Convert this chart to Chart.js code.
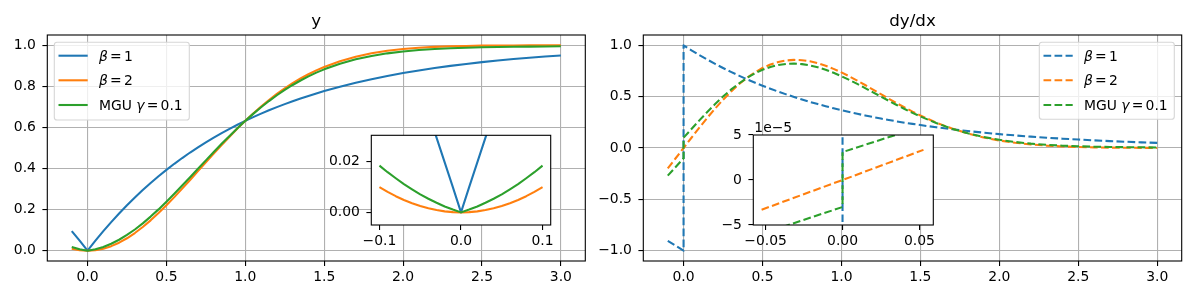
<!DOCTYPE html>
<html>
<head>
<meta charset="utf-8">
<script src="https://cdn.jsdelivr.net/npm/chart.js@4.4.1/dist/chart.umd.min.js"></script>
<style>
  html, body { margin: 0; padding: 0; background: #fff; }
  #fig { position: relative; width: 1196px; height: 300px; overflow: hidden; }
  canvas { position: absolute; }
</style>
</head>
<body>
<div id="fig">
  <canvas id="yMain" width="598" height="300" style="left:0;top:0"></canvas>
  <canvas id="dMain" width="598" height="300" style="left:598px;top:0"></canvas>
  <canvas id="yInset" width="240" height="140" style="left:320px;top:120px"></canvas>
  <canvas id="dInset" width="250" height="150" style="left:700px;top:110px"></canvas>
</div>
<script>
// ---- data ----
const seriesLabels = ['β=1', 'β=2', 'MGU γ=0.1'];
const titles = ['y', 'dy/dx'];

// left panel: y(x)
const xs = [-0.1, -0.05, 0, 0.05, 0.1, 0.15, 0.2, 0.25, 0.3, 0.35, 0.4, 0.45, 0.5, 0.55, 0.6, 0.65, 0.7, 0.75,
  0.8, 0.85, 0.9, 0.95, 1.0, 1.05, 1.1, 1.15, 1.2, 1.25, 1.3, 1.35, 1.4, 1.45, 1.5,
  1.6, 1.7, 1.8, 1.9, 2.0, 2.1, 2.2, 2.3, 2.4, 2.5, 2.6, 2.7, 2.8, 2.9, 3.0];
const yBeta1 = [0.0952, 0.0488, 0, 0.0488, 0.0952, 0.1393, 0.1813, 0.2212, 0.2592, 0.2953, 0.3297, 0.3624, 0.3935,
  0.4231, 0.4512, 0.4780, 0.5034, 0.5276, 0.5507, 0.5726, 0.5934, 0.6133, 0.6321, 0.6501, 0.6671, 0.6834, 0.6988,
  0.7135, 0.7275, 0.7408, 0.7534, 0.7654, 0.7769,
  0.7981, 0.8173, 0.8347, 0.8504, 0.8647, 0.8775, 0.8892, 0.8997, 0.9093, 0.9179, 0.9257, 0.9328, 0.9392, 0.9450, 0.9502];
const yBeta2 = [0.0100, 0.0025, 0, 0.0025, 0.0100, 0.0223, 0.0392, 0.0606, 0.0861, 0.1153, 0.1479, 0.1833, 0.2212,
  0.2610, 0.3023, 0.3446, 0.3874, 0.4302, 0.4727, 0.5145, 0.5551, 0.5945, 0.6321, 0.6680, 0.7018, 0.7335, 0.7631,
  0.7904, 0.8155, 0.8384, 0.8591, 0.8779, 0.8946,
  0.9227, 0.9444, 0.9608, 0.9730, 0.9817, 0.9878, 0.9921, 0.9950, 0.9968, 0.9981, 0.9988, 0.9993, 0.9996, 0.9998, 0.9999];
const yMgu = [0.0185, 0.0071, 0, 0.0071, 0.0185, 0.0340, 0.0534, 0.0767, 0.1034, 0.1333, 0.1661, 0.2012, 0.2384,
  0.2772, 0.3172, 0.3579, 0.3990, 0.4399, 0.4805, 0.5203, 0.5589, 0.5964, 0.6321, 0.6662, 0.6983, 0.7285, 0.7567,
  0.7827, 0.8067, 0.8286, 0.8485, 0.8667, 0.8828,
  0.9102, 0.9317, 0.9482, 0.9607, 0.9700, 0.9768, 0.9818, 0.9855, 0.9881, 0.9901, 0.9915, 0.9927, 0.9936, 0.9943, 0.9949];

// right panel: dy/dx (x = 0 appears twice: value just left and just right of 0)
const dxs = [-0.1, -0.05, 0, 0, 0.05, 0.1, 0.15, 0.2, 0.25, 0.3, 0.35, 0.4, 0.45, 0.5, 0.55, 0.6, 0.65, 0.7, 0.75,
  0.8, 0.85, 0.9, 0.95, 1.0, 1.05, 1.1, 1.15, 1.2, 1.25, 1.3, 1.35, 1.4, 1.45, 1.5,
  1.6, 1.7, 1.8, 1.9, 2.0, 2.1, 2.2, 2.3, 2.4, 2.5, 2.6, 2.7, 2.8, 2.9, 3.0];
const dBeta1 = [-0.9048, -0.9512, -1.0, 1.0, 0.9512, 0.9048, 0.8607, 0.8187, 0.7788, 0.7408, 0.7047, 0.6703, 0.6376,
  0.6065, 0.5769, 0.5488, 0.5220, 0.4966, 0.4724, 0.4493, 0.4274, 0.4066, 0.3867, 0.3679, 0.3499, 0.3329, 0.3166,
  0.3012, 0.2865, 0.2725, 0.2592, 0.2466, 0.2346, 0.2231,
  0.2019, 0.1827, 0.1653, 0.1496, 0.1353, 0.1225, 0.1108, 0.1003, 0.0907, 0.0821, 0.0743, 0.0672, 0.0608, 0.0550, 0.0498];
const dBeta2 = [-0.1980, -0.0998, 0, 0, 0.0998, 0.1980, 0.2933, 0.3843, 0.4697, 0.5483, 0.6193, 0.6817, 0.7350,
  0.7788, 0.8129, 0.8372, 0.8520, 0.8577, 0.8547, 0.8437, 0.8254, 0.8008, 0.7705, 0.7358, 0.6972, 0.6561, 0.6130,
  0.5686, 0.5240, 0.4797, 0.4363, 0.3945, 0.3541, 0.3162,
  0.2474, 0.1890, 0.1411, 0.1026, 0.0733, 0.0512, 0.0348, 0.0230, 0.0151, 0.0097, 0.0060, 0.0037, 0.0022, 0.0013, 0.0007];
const dMgu = [-0.2690, -0.1849, -0.1, 0.1, 0.1849, 0.2687, 0.3501, 0.4278, 0.5006, 0.5676, 0.6279, 0.6805, 0.7253,
  0.7616, 0.7893, 0.8084, 0.8190, 0.8216, 0.8164, 0.8042, 0.7856, 0.7614, 0.7322, 0.6990, 0.6625, 0.6238, 0.5834,
  0.5418, 0.5003, 0.4590, 0.4186, 0.3798, 0.3422, 0.3069,
  0.2429, 0.1884, 0.1435, 0.1073, 0.0795, 0.0584, 0.0424, 0.0307, 0.0227, 0.0169, 0.0128, 0.0100, 0.0081, 0.0067, 0.0056];

// left inset: zoom around x = 0
const insetX = [-0.1, -0.09, -0.08, -0.07, -0.06, -0.05, -0.04, -0.03, -0.02, -0.01, 0,
  0.01, 0.02, 0.03, 0.04, 0.05, 0.06, 0.07, 0.08, 0.09, 0.1];
const insetBeta1 = [0.0952, 0.0861, 0.0769, 0.0676, 0.0582, 0.0488, 0.0392, 0.0296, 0.0198, 0.0100, 0,
  0.0100, 0.0198, 0.0296, 0.0392, 0.0488, 0.0582, 0.0676, 0.0769, 0.0861, 0.0952];
const insetBeta2 = [0.0100, 0.0081, 0.0064, 0.0049, 0.0036, 0.0025, 0.0016, 0.0009, 0.0004, 0.0001, 0,
  0.0001, 0.0004, 0.0009, 0.0016, 0.0025, 0.0036, 0.0049, 0.0064, 0.0081, 0.0100];
const insetMgu = [0.0185, 0.0159, 0.0135, 0.0112, 0.0091, 0.0071, 0.0054, 0.0038, 0.0023, 0.0011, 0,
  0.0011, 0.0023, 0.0038, 0.0054, 0.0071, 0.0091, 0.0112, 0.0135, 0.0159, 0.0185];

// right inset: values in units of 1e-5
const insetDX = [-0.0526, 0, 0, 0.0526];
const insetDBeta1 = [-30, -30, 30, 30];
const insetDBeta2 = [-3.3, 0, 0, 3.35];
const insetDMgu = [-6.0, -3.0, 3.1, 6.0];

// ticks
const yMainXTicks = [0, 0.5, 1.0, 1.5, 2.0, 2.5, 3.0];
const yMainYTicks = [0, 0.2, 0.4, 0.6, 0.8, 1.0];
const dMainYTicks = [-1.0, -0.5, 0, 0.5, 1.0];
const yInsetXTicks = [-0.1, 0, 0.1];
const yInsetYTicks = [0, 0.02];
const dInsetXTicks = [-0.05, 0, 0.05];
const dInsetYTicks = [-5, 0, 5];

// ---- styling ----
const COLORS = ['#1f77b4', '#ff7f0e', '#2ca02c'];
const FONT = 'DejaVu Sans';
Chart.defaults.font.family = FONT;
Chart.defaults.font.size = 13.9;
Chart.defaults.color = '#000';

function fmt(v, dec) {
  return v.toFixed(dec).replace('-', '\u2212');
}

function line(xArr, yArr, idx, dashed, clip) {
  const ds = {
    data: xArr.map((x, i) => ({ x: x, y: yArr[i] })),
    borderColor: COLORS[idx],
    borderWidth: 2.08,
    borderDash: dashed ? [7.7, 3.33] : [],
    borderCapStyle: 'butt',
    borderJoinStyle: 'round',
    pointRadius: 0,
    showLine: true,
    fill: false,
    tension: 0,
    order: 3 - idx
  };
  if (clip !== undefined) ds.clip = clip;
  return ds;
}

function scale(o) {
  return {
    type: 'linear',
    min: o.min,
    max: o.max,
    afterBuildTicks: s => { s.ticks = o.ticks.map(v => ({ value: v })); },
    afterFit: s => {
      if (s.isHorizontal()) s.height = o.size; else s.width = o.size;
    },
    ticks: {
      autoSkip: false, maxRotation: 0, minRotation: 0, color: '#000',
      padding: o.pad, font: { size: 13.9 },
      callback: v => fmt(v, o.dec)
    },
    grid: {
      display: true, drawOnChartArea: !!o.grid, color: '#b0b0b0', lineWidth: 1.1,
      drawTicks: true, tickLength: 4.9, tickColor: '#000', tickWidth: 1.1
    },
    border: { display: false }
  };
}

// draws the label with greek letters in italic and a little room around '='
function drawLabel(ctx, text, x, y) {
  let cx = x;
  for (const ch of text) {
    const greek = /[\u03b1-\u03c9]/.test(ch);
    ctx.font = (greek ? 'italic ' : '') + '13.9px ' + FONT;
    if (ch === '=') cx += 2.2;
    ctx.fillText(ch, cx, y);
    cx += ctx.measureText(ch).width;
    if (ch === '=') cx += 2.2;
  }
}

const decor = {
  id: 'decor',
  beforeDraw(chart, args, o) {
    if (!o.whiteArea) return;
    const a = chart.chartArea, ctx = chart.ctx;
    ctx.save();
    ctx.fillStyle = '#fff';
    ctx.fillRect(a.left, a.top, a.right - a.left, a.bottom - a.top);
    ctx.restore();
  },
  afterDatasetsDraw(chart) {
    const a = chart.chartArea, ctx = chart.ctx;
    ctx.save();
    ctx.strokeStyle = '#000';
    ctx.lineWidth = 1.1;
    ctx.strokeRect(a.left, a.top, a.right - a.left, a.bottom - a.top);
    ctx.restore();
  },
  afterDraw(chart, args, o) {
    const a = chart.chartArea, ctx = chart.ctx;
    ctx.save();
    ctx.fillStyle = '#000';
    if (o.title) {
      ctx.font = '16.7px ' + FONT;
      ctx.textAlign = 'center';
      ctx.textBaseline = 'alphabetic';
      ctx.fillText(o.title, (a.left + a.right) / 2, 26);
    }
    if (o.offsetText) {
      ctx.font = '13.9px ' + FONT;
      ctx.textAlign = 'left';
      ctx.textBaseline = 'alphabetic';
      ctx.fillText(o.offsetText, a.left + 1, a.top - 3.3);
    }
    if (o.legend) {
      const lg = o.legend;
      const bx = lg.right != null ? a.right - lg.right - lg.w : a.left + lg.left;
      const by = a.top + lg.top;
      ctx.beginPath();
      ctx.roundRect(bx, by, lg.w, lg.h, 2.8);
      ctx.fillStyle = 'rgba(255,255,255,0.8)';
      ctx.fill();
      ctx.strokeStyle = '#d6d6d6';
      ctx.lineWidth = 1.1;
      ctx.stroke();
      const rows = [13.4, 38, 62.7];
      seriesLabels.forEach((lab, i) => {
        const ry = by + rows[i];
        ctx.beginPath();
        ctx.setLineDash(lg.dashed ? [7.7, 3.33] : []);
        ctx.strokeStyle = COLORS[i];
        ctx.lineWidth = 2.08;
        ctx.lineCap = 'butt';
        ctx.moveTo(bx + 4.2, ry);
        ctx.lineTo(bx + 33.4, ry);
        ctx.stroke();
        ctx.setLineDash([]);
        ctx.fillStyle = '#000';
        ctx.textAlign = 'left';
        ctx.textBaseline = 'alphabetic';
        drawLabel(ctx, lab, bx + 44.7, ry + 5);
      });
    }
    ctx.restore();
  }
};

function makeChart(id, datasets, xs, ys, padRight, padTop, deco) {
  return new Chart(document.getElementById(id), {
    type: 'scatter',
    data: { datasets: datasets },
    options: {
      responsive: false,
      animation: false,
      devicePixelRatio: 1,
      layout: { padding: { left: 0, top: padTop, right: padRight, bottom: 0 } },
      scales: { x: scale(xs), y: scale(ys) },
      plugins: { legend: { display: false }, tooltip: { enabled: false }, title: { display: false }, decor: deco }
    },
    plugins: [decor]
  });
}

// left main panel
makeChart('yMain',
  [line(xs, yBeta1, 0, false), line(xs, yBeta2, 1, false), line(xs, yMgu, 2, false)],
  { min: -0.255, max: 3.155, ticks: yMainXTicks, dec: 1, size: 39, pad: 2.7, grid: true },
  { min: -0.05, max: 1.05, ticks: yMainYTicks, dec: 1, size: 47.3, pad: 6.5, grid: true },
  12.7, 35,
  { title: titles[0], legend: { left: 7, top: 7.3, w: 135, h: 77.7, dashed: false } });

// right main panel
makeChart('dMain',
  [line(dxs, dBeta1, 0, true), line(dxs, dBeta2, 1, true), line(dxs, dMgu, 2, true)],
  { min: -0.255, max: 3.155, ticks: yMainXTicks, dec: 1, size: 39, pad: 2.7, grid: true },
  { min: -1.1, max: 1.1, ticks: dMainYTicks, dec: 1, size: 45.3, pad: 6.5, grid: true },
  14.3, 35,
  { title: titles[1], legend: { right: 7.4, top: 7.3, w: 135, h: 77, dashed: true } });

// left inset
makeChart('yInset',
  [line(insetX, insetBeta1, 0, false, 0), line(insetX, insetBeta2, 1, false, 0), line(insetX, insetMgu, 2, false, 0)],
  { min: -0.11, max: 0.11, ticks: yInsetXTicks, dec: 1, size: 35, pad: 2.7, grid: false },
  { min: -0.005, max: 0.0305, ticks: yInsetYTicks, dec: 2, size: 51.3, pad: 6.5, grid: false },
  9.3, 15.3,
  { whiteArea: true });

// right inset
makeChart('dInset',
  [line(insetDX, insetDBeta1, 0, true, 0), line(insetDX, insetDBeta2, 1, true, 0), line(insetDX, insetDMgu, 2, true, 0)],
  { min: -0.058, max: 0.059, ticks: dInsetXTicks, dec: 2, size: 35, pad: 2.7, grid: false },
  { min: -5, max: 5, ticks: dInsetYTicks, dec: 0, size: 53.3, pad: 6.5, grid: false },
  16.7, 25,
  { whiteArea: true, offsetText: '1e\u22125' });
</script>
</body>
</html>
